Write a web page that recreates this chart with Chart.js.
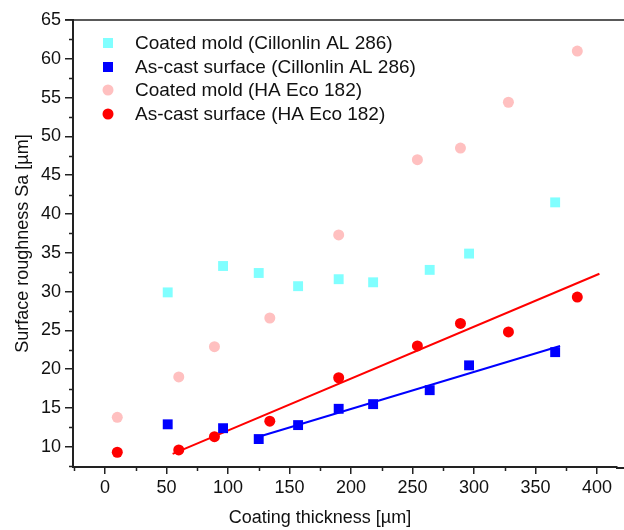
<!DOCTYPE html>
<html>
<head>
<meta charset="utf-8">
<script src="https://cdn.jsdelivr.net/npm/chart.js@4/dist/chart.umd.min.js"></script>
<style>
  html, body { margin: 0; padding: 0; background: #fff; overflow: hidden; }
  #wrap { width: 624px; height: 530px; }
  canvas { display: block; }
</style>
</head>
<body>
<div id="wrap"><canvas id="chart" width="624" height="530"></canvas></div>
<script>
// thickness values (µm)
const cillonlinX = [51, 96, 125, 157, 190, 218, 264, 296, 366];
const coatedCillonlin = [29.9, 33.3, 32.4, 30.7, 31.6, 31.2, 32.8, 34.9, 41.5];
const castCillonlin = [12.9, 12.4, 11.0, 12.8, 14.9, 15.5, 17.3, 20.5, 22.2];

const ecoX = [10, 60, 89, 134, 190, 254, 289, 328, 384];
const coatedEco = [13.8, 19.0, 22.9, 26.6, 37.3, 47.0, 48.5, 54.4, 61.0];
const castEco = [9.3, 9.6, 11.3, 13.3, 18.9, 23.0, 25.9, 24.8, 29.3];

// linear fit end points
const fitCillonlinX = [125, 370];
const fitCillonlinY = [11.3, 23.0];
const fitEcoX = [55, 402];
const fitEcoY = [9.1, 32.3];

const xTicks = [0, 50, 100, 150, 200, 250, 300, 350, 400];
const yTicks = [10, 15, 20, 25, 30, 35, 40, 45, 50, 55, 60, 65];

const legendLabels = [
  "Coated mold (Cillonlin AL 286)",
  "As-cast surface (Cillonlin AL 286)",
  "Coated mold (HA Eco 182)",
  "As-cast surface (HA Eco 182)",
];
const xTitle = "Coating thickness [µm]";

const FONT = "'Liberation Sans', Arial, sans-serif";
const X_MIN = -26;
const X_PX_PER_UNIT = 1.23;

function toPoints(xs, ys) {
  return xs.map((x, i) => ({ x: x, y: ys[i] }));
}

const axisDecor = {
  id: "axisDecor",
  afterDraw(chart) {
    const ctx = chart.ctx;
    const area = chart.chartArea;
    const xs = chart.scales.x;
    const ys = chart.scales.y;
    ctx.save();
    ctx.strokeStyle = "#222";
    ctx.lineWidth = 1.5;
    // top frame
    ctx.beginPath();
    ctx.moveTo(area.left - 8, area.top);
    ctx.lineTo(chart.width, area.top);
    ctx.stroke();
    // x axis runs on past the right edge
    ctx.lineWidth = 2;
    ctx.beginPath();
    ctx.moveTo(area.right - 1, area.bottom + 1);
    ctx.lineTo(chart.width, area.bottom + 1);
    ctx.stroke();
    // minor ticks
    ctx.lineWidth = 1.5;
    ctx.beginPath();
    for (let v = -25; v <= 450; v += 50) {
      const px = Math.round(xs.getPixelForValue(v)) + 0.5;
      if (px > chart.width) break;
      ctx.moveTo(px, area.bottom);
      ctx.lineTo(px, area.bottom + 4);
    }
    for (let v = 7.5; v <= ys.max; v += 5) {
      const py = Math.round(ys.getPixelForValue(v)) + 0.5;
      ctx.moveTo(area.left, py);
      ctx.lineTo(area.left - 4, py);
    }
    ctx.stroke();
    // x title
    ctx.font = "18px " + FONT;
    ctx.fillStyle = "#111";
    ctx.textAlign = "center";
    ctx.textBaseline = "middle";
    ctx.fillText(xTitle, 320, 518);
    ctx.restore();
  },
};

const legendInside = {
  id: "legendInside",
  afterDraw(chart) {
    const ctx = chart.ctx;
    ctx.save();
    ctx.font = "19px " + FONT;
    ctx.textBaseline = "middle";
    const rows = [43, 67, 90, 114];
    legendLabels.forEach((label, i) => {
      const ds = chart.data.datasets[i];
      const cx = 108;
      const cy = rows[i];
      ctx.fillStyle = ds.backgroundColor;
      ctx.beginPath();
      if (ds.pointStyle === "rect") {
        ctx.rect(cx - 5, cy - 5, 10, 10);
      } else {
        ctx.arc(cx, cy, 5.5, 0, Math.PI * 2);
      }
      ctx.fill();
      ctx.fillStyle = "#111";
      ctx.fillText(label, 135, cy + 1);
    });
    ctx.restore();
  },
};

const chart = new Chart(document.getElementById("chart"), {
  type: "scatter",
  data: {
    datasets: [
      {
        label: legendLabels[0],
        data: toPoints(cillonlinX, coatedCillonlin),
        pointStyle: "rect",
        pointRadius: 7,
        backgroundColor: "#80ffff",
        borderWidth: 0,
        order: 1,
      },
      {
        label: legendLabels[1],
        data: toPoints(cillonlinX, castCillonlin),
        pointStyle: "rect",
        pointRadius: 7,
        backgroundColor: "#0000ff",
        borderWidth: 0,
        order: 1,
      },
      {
        label: legendLabels[2],
        data: toPoints(ecoX, coatedEco),
        pointStyle: "circle",
        pointRadius: 5.5,
        backgroundColor: "#ffc0c0",
        borderWidth: 0,
        order: 1,
      },
      {
        label: legendLabels[3],
        data: toPoints(ecoX, castEco),
        pointStyle: "circle",
        pointRadius: 5.5,
        backgroundColor: "#ff0000",
        borderWidth: 0,
        order: 1,
      },
      {
        label: "fit Cillonlin",
        data: toPoints(fitCillonlinX, fitCillonlinY),
        showLine: true,
        pointRadius: 0,
        borderColor: "#0000ff",
        borderWidth: 2,
        order: 2,
      },
      {
        label: "fit Eco",
        data: toPoints(fitEcoX, fitEcoY),
        showLine: true,
        pointRadius: 0,
        borderColor: "#ff0000",
        borderWidth: 2,
        order: 2,
      },
    ],
  },
  options: {
    responsive: false,
    animation: false,
    layout: { padding: { top: 20, right: 0, left: 0, bottom: 0 } },
    plugins: {
      legend: { display: false },
      tooltip: { enabled: false },
    },
    scales: {
      x: {
        type: "linear",
        min: X_MIN,
        max: 422,
        afterBuildTicks: (scale) => {
          scale.ticks = xTicks.map((v) => ({ value: v }));
        },
        afterFit: (scale) => {
          scale.height = 63;
        },
        grid: {
          drawOnChartArea: false,
          drawTicks: true,
          tickLength: 7,
          color: "#222",
          lineWidth: 1.5,
        },
        border: { display: true, color: "#222", width: 2 },
        ticks: {
          padding: 3,
          color: "#111",
          font: { family: FONT, size: 18 },
          maxRotation: 0,
        },
        title: { display: false },
      },
      y: {
        type: "linear",
        min: 7.4,
        max: 65,
        afterBuildTicks: (scale) => {
          scale.ticks = yTicks.map((v) => ({ value: v }));
        },
        afterFit: (scale) => {
          scale.width = 73;
        },
        grid: {
          drawOnChartArea: false,
          drawTicks: true,
          tickLength: 8,
          color: "#222",
          lineWidth: 1.5,
        },
        border: { display: true, color: "#222", width: 2 },
        ticks: {
          padding: 4,
          color: "#111",
          font: { family: FONT, size: 18 },
        },
        title: {
          display: true,
          text: "Surface roughness Sa [µm]",
          color: "#111",
          font: { family: FONT, size: 18 },
          padding: { top: 12, bottom: 0 },
        },
      },
    },
  },
  plugins: [axisDecor, legendInside],
});

// match the x scale to the reference spacing once the plot width is known
const area = chart.chartArea;
chart.options.scales.x.max = X_MIN + (area.right - area.left) / X_PX_PER_UNIT;
chart.update();
</script>
</body>
</html>
